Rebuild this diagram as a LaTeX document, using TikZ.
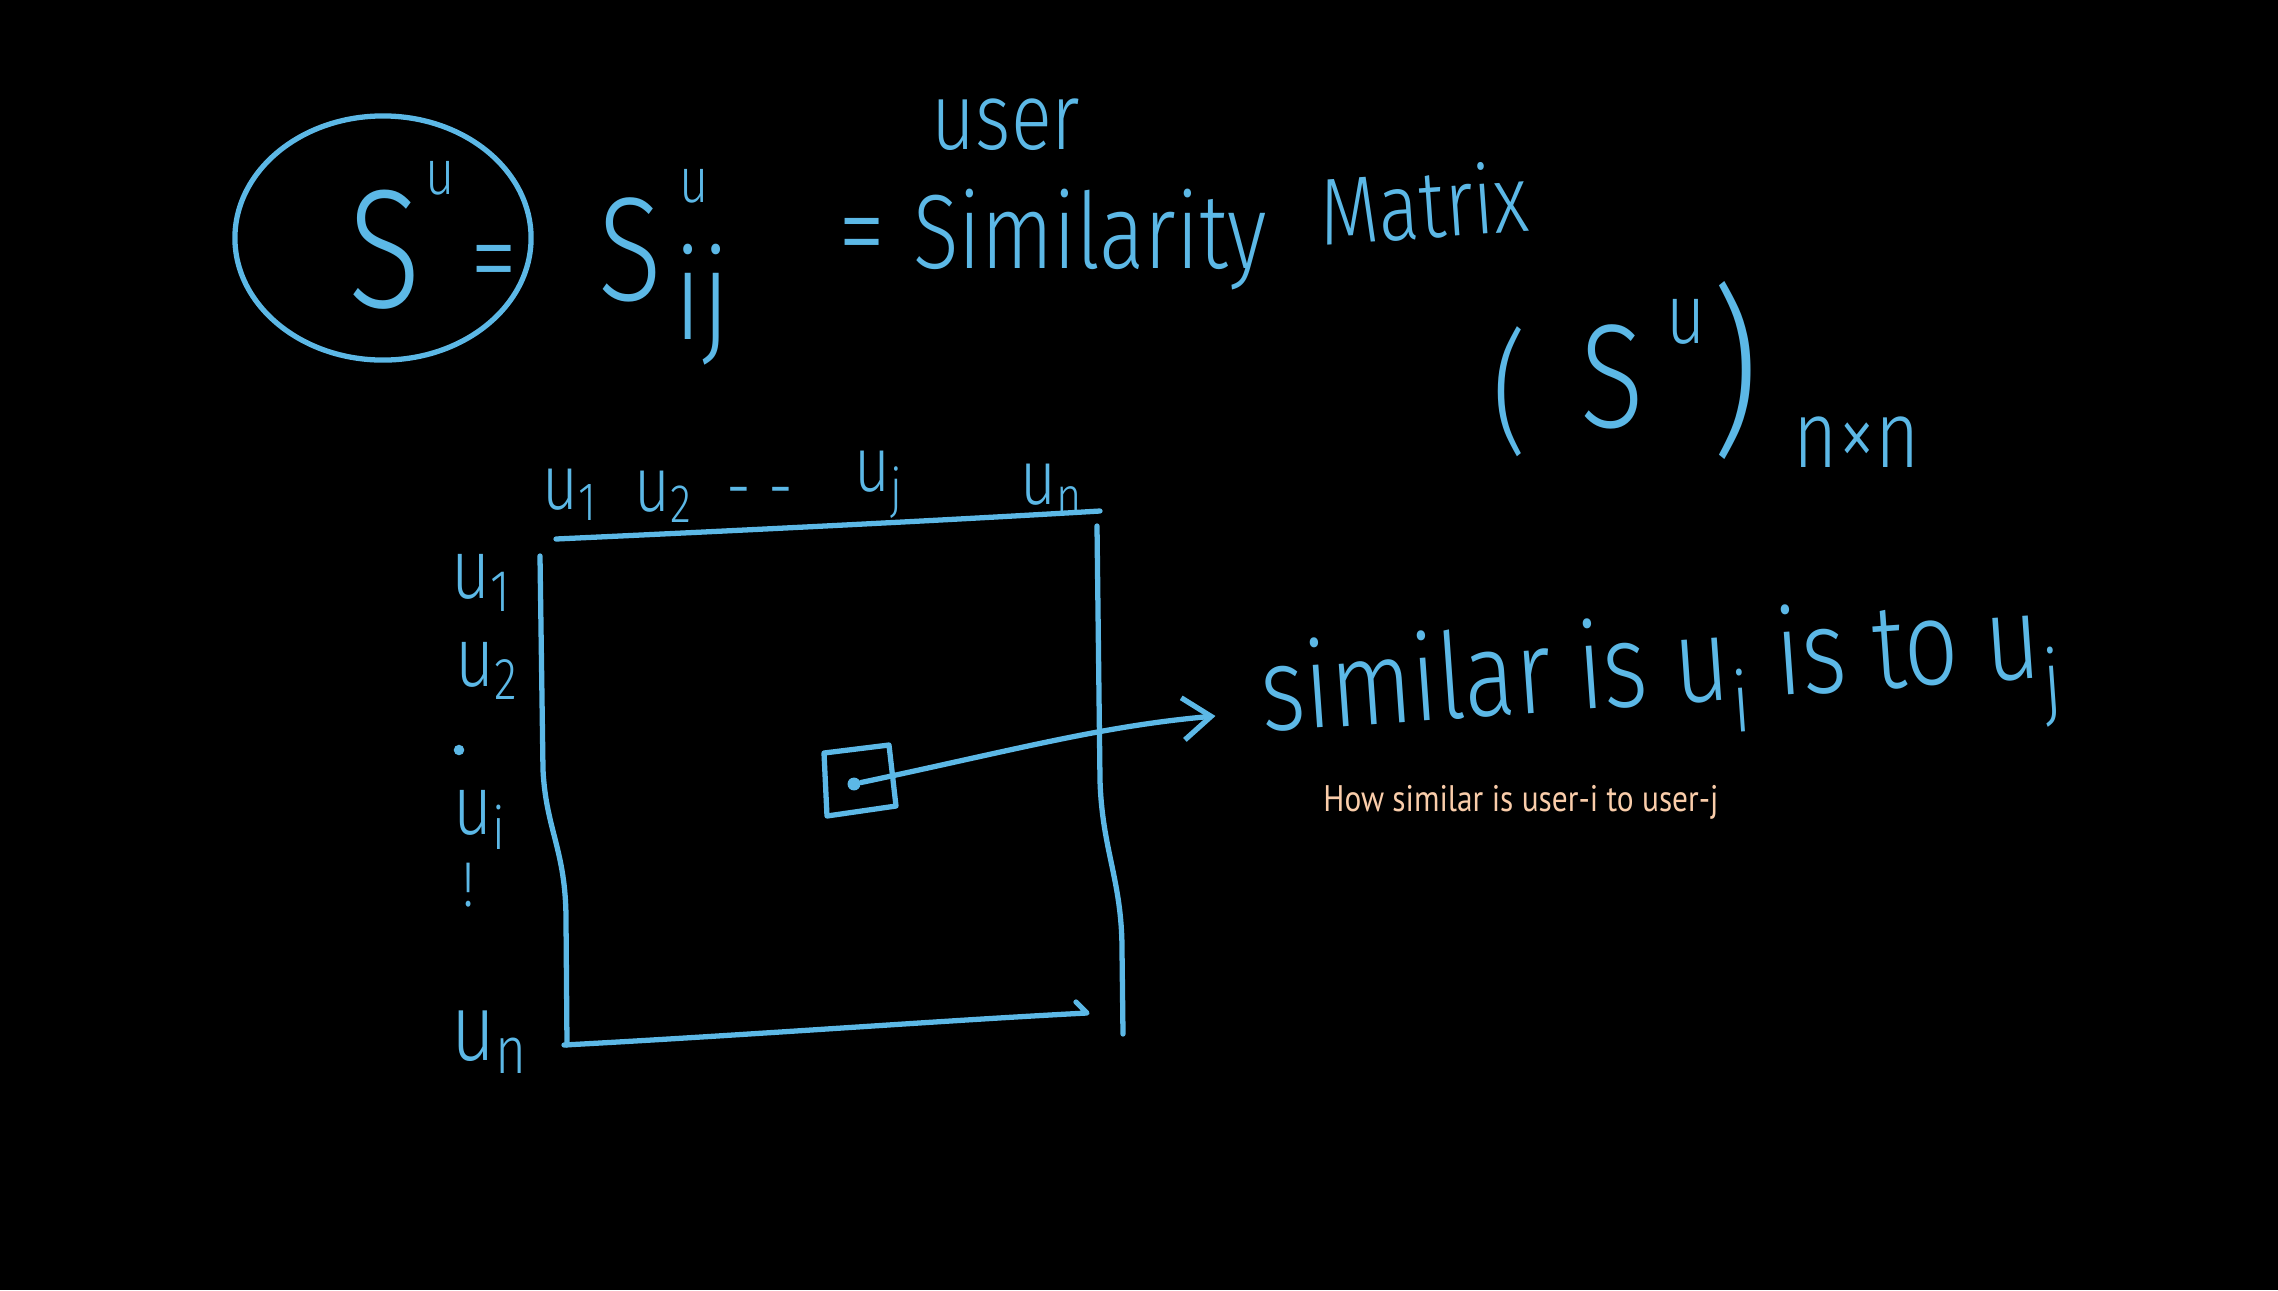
\documentclass[tikz,border=0pt]{standalone}
\usepackage{fontspec}
\usepackage{tikz}
\usetikzlibrary{arrows.meta}
\usepackage[dvipsnames,svgnames]{xcolor}
\newfontfamily\handfont{Fira Sans Light}[FakeStretch=0.8]
\newfontfamily\notefont{PT Sans}[FakeStretch=0.85]
\definecolor{chalk}{RGB}{92,184,230}
\definecolor{peach}{RGB}{250,205,170}
\newcommand{\inksize}[1]{\fontsize{#1}{#1}\selectfont}

\begin{document}
\begin{tikzpicture}[x=0.01cm,y=-0.01cm,
    ink/.style={chalk,line width=1.5pt,line cap=round,line join=round},
    hw/.style={text=chalk,inner sep=0pt,font=\handfont\inksize{#1}},
    hw/.default=30]

    % the board
    \fill[black] (0,0) rectangle (2278,1290);

    % circled S^u and the first equals sign
    \node[hw=48] (S) at (385,250) {S};
    \node[hw=18] (Su) at (440,178) {u};
    \draw[ink] (383,238) ellipse (1.48cm and 1.22cm);
    \node[hw=34] (eq1) at (494,272) {=};

    % S_ij^u
    \node[hw=42] (Sij) at (630,250) {S};
    \node[hw=18] (Sij-u) at (694,186) {u};
    \node[hw=36] (Sij-ij) at (702,305) {ij};

    % = user Similarity Matrix
    \node[hw=34] (eq2) at (862,245) {=};
    \node[hw=30] (simword) at (1090,240) {Similarity};
    \node[hw=27,rotate=4] (matword) at (1424,203) {Matrix};
    \node[hw=27] (user) at (1006,125) {user};

    % (S^u)_{n x n}
    \node[hw=38] (lpar) at (1510,392) {(};
    \node[hw=42] (Sn) at (1612,377) {S};
    \node[hw=24] (Sn-u) at (1686,322) {u};
    \node[hw=52] (rpar) at (1735,370) {)};
    \node[hw=27] (nxn) at (1857,442) {n×n};

    % column labels
    \node[hw=22] (c1) at (570,495) {u\textsubscript{1}};
    \node[hw=22] (c2) at (664,497) {u\textsubscript{2}};
    \node[hw=22] (cdots) at (760,500) {- -};
    \node[hw=22] (cj) at (879,485) {u\textsubscript{j}};
    \node[hw=22] (cn) at (1052,490) {u\textsubscript{n}};

    % row labels
    \node[hw=24] (r1) at (482,583) {u\textsubscript{1}};
    \node[hw=24] (r2) at (487,671) {u\textsubscript{2}};
    \fill[chalk] (459,750) circle (1.5pt);
    \node[hw=24] (ri) at (480,820) {u\textsubscript{i}};
    \node[hw=18] (rbang) at (469,885) {!};
    \node[hw=27] (rn) at (490,1042) {u\textsubscript{n}};

    % matrix outline
    \draw[ink] (556,539) .. controls (750,530) and (950,520) .. (1100,511);
    \draw[ink] (540,556) -- (543,770) .. controls (546,830) and (566,850) .. (566,920) -- (567,1045);
    \draw[ink] (564,1045) .. controls (750,1035) and (950,1020) .. (1087,1013) -- (1076,1002);
    \draw[ink] (1097,526) -- (1100,780) .. controls (1102,850) and (1122,880) .. (1122,950) -- (1123,1034);

    % the entry for u_i, u_j
    \draw[ink] (824,753) -- (889,745) -- (896,806) -- (827,816) -- cycle;
    \node[circle,fill=chalk,inner sep=1.3pt] (cell) at (854,784) {};

    % what the entry means
    \node[hw=34,rotate=4,anchor=west] (sim) at (1261,712) {similar is u\textsubscript{i} is to u\textsubscript{j}};
    \draw[ink,-{Straight Barb[length=8pt,width=12pt]},shorten >=13pt] (cell) to[out=12,in=185] (sim.west);
    \node[text=peach,font=\notefont\inksize{10.5}] (note) at (1521,802) {How similar is user-i to user-j};

\end{tikzpicture}
\end{document}
